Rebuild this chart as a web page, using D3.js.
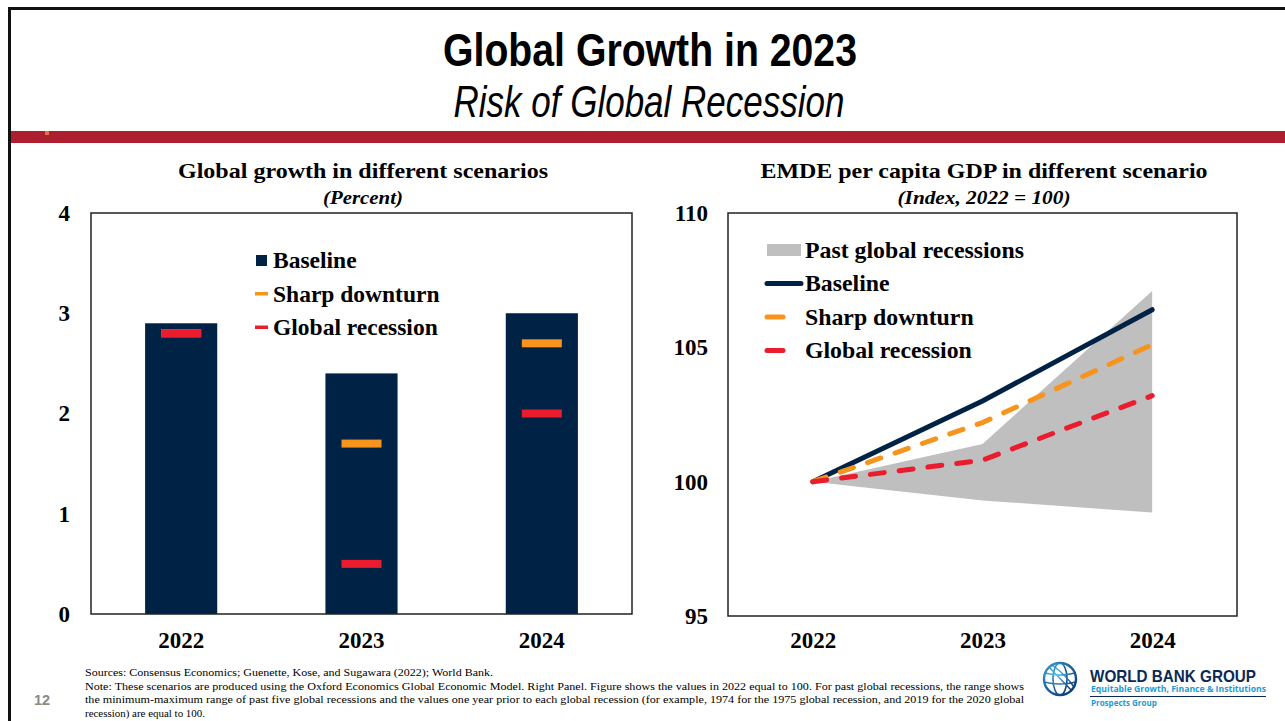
<!DOCTYPE html>
<html><head><meta charset="utf-8">
<script src="https://cdn.jsdelivr.net/npm/d3@7"></script>
<style>
html,body{margin:0;padding:0;background:#fff;}
svg{display:block;}
</style></head>
<body>
<svg id="c" width="1285" height="721"></svg>
<script>
// ---------- DATA ----------
const years = ["2022", "2023", "2024"];
// Left panel: global growth (percent)
const baselineGrowth = [2.9, 2.4, 3.0];
const sharpGrowth = [2.8, 1.7, 2.7];
const recessionGrowth = [2.8, 0.5, 2.0];
const leftTicks = [0, 1, 2, 3, 4];
// Right panel: EMDE per capita GDP index (2022 = 100)
const baselineIndex = [100, 103.0, 106.4];
const sharpIndex = [100, 102.2, 105.1];
const recessionIndex = [100, 100.8, 103.2];
const pastMax = [100, 101.4, 107.1];
const pastMin = [100, 99.3, 98.85];
const rightTicks = [95, 100, 105, 110];

const NAVY = "#002244", ORANGE = "#F7941D", RED = "#EB1C2D", GRAY = "#BFBFBF";
const SERIF = "'Liberation Serif','Times New Roman',serif";
const NARROW = "'Liberation Sans Narrow','Arial Narrow','Liberation Sans',Arial,sans-serif";

const svg = d3.select("#c");

// ---------- Slide frame ----------
svg.append("rect").attr("x", 0).attr("y", 0).attr("width", 1285).attr("height", 721).attr("fill", "#fff");
svg.append("line").attr("x1", 8).attr("x2", 1285).attr("y1", 8.5).attr("y2", 8.5).attr("stroke", "#111").attr("stroke-width", 3);
svg.append("line").attr("x1", 9.5).attr("x2", 9.5).attr("y1", 7).attr("y2", 721).attr("stroke", "#111").attr("stroke-width", 3);
svg.append("rect").attr("x", 11).attr("y", 131).attr("width", 1274).attr("height", 12).attr("fill", "#AD1F2F");
svg.append("rect").attr("x", 45).attr("y", 131).attr("width", 4).attr("height", 4).attr("fill", "#D9793B");

svg.append("text").attr("x", 650).attr("y", 66).attr("text-anchor", "middle")
  .attr("font-family", NARROW).attr("font-weight", "bold").attr("font-size", 47)
  .attr("textLength", 414).attr("lengthAdjust", "spacingAndGlyphs")
  .text("Global Growth in 2023");
svg.append("text").attr("x", 649).attr("y", 117).attr("text-anchor", "middle")
  .attr("font-family", NARROW).attr("font-style", "italic").attr("font-size", 45)
  .attr("textLength", 391).attr("lengthAdjust", "spacingAndGlyphs")
  .text("Risk of Global Recession");

function title(x, t1, w1, t2, w2) {
  svg.append("text").attr("x", x).attr("y", 178).attr("text-anchor", "middle")
    .attr("font-family", SERIF).attr("font-weight", "bold").attr("font-size", 22)
    .attr("textLength", w1).attr("lengthAdjust", "spacingAndGlyphs").text(t1);
  svg.append("text").attr("x", x).attr("y", 204).attr("text-anchor", "middle")
    .attr("font-family", SERIF).attr("font-weight", "bold").attr("font-style", "italic").attr("font-size", 19)
    .attr("textLength", w2).attr("lengthAdjust", "spacingAndGlyphs").text(t2);
}

// ---------- LEFT PANEL ----------
const L = {x0: 91, x1: 632, y0: 213, y1: 614};
const xL = d3.scaleBand().domain(years).range([L.x0, L.x1]).paddingInner(0.6).paddingOuter(0.3);
const yL = d3.scaleLinear().domain([0, 4]).range([L.y1, L.y0]);

title(363, "Global growth in different scenarios", 370, "(Percent)", 80);

const gL = svg.append("g");
gL.selectAll("rect.bar").data(years).join("rect").attr("class", "bar")
  .attr("x", d => xL(d)).attr("width", xL.bandwidth())
  .attr("y", (d, i) => yL(baselineGrowth[i]))
  .attr("height", (d, i) => yL(0) - yL(baselineGrowth[i]))
  .attr("fill", NAVY);
const mw = 40, mh = 8;
gL.selectAll("rect.sharp").data(years).join("rect").attr("class", "sharp")
  .attr("x", d => xL(d) + xL.bandwidth() / 2 - mw / 2).attr("width", mw)
  .attr("y", (d, i) => yL(sharpGrowth[i]) - mh / 2).attr("height", mh)
  .attr("fill", ORANGE);
gL.selectAll("rect.rec").data(years).join("rect").attr("class", "rec")
  .attr("x", d => xL(d) + xL.bandwidth() / 2 - mw / 2).attr("width", mw)
  .attr("y", (d, i) => yL(recessionGrowth[i]) - mh / 2).attr("height", mh)
  .attr("fill", RED);

gL.append("rect").attr("x", L.x0).attr("y", L.y0).attr("width", L.x1 - L.x0).attr("height", L.y1 - L.y0)
  .attr("fill", "none").attr("stroke", "#222").attr("stroke-width", 1.5);

const axL = gL.append("g").attr("transform", `translate(${L.x0},0)`)
  .call(d3.axisLeft(yL).tickValues(leftTicks).tickSize(0).tickPadding(21).tickFormat(d3.format("d")));
axL.select(".domain").remove();
axL.selectAll("text").attr("font-family", SERIF).attr("font-weight", "bold").attr("font-size", 23).attr("fill", "#000");

const axLb = gL.append("g").attr("transform", `translate(0,${L.y1})`)
  .call(d3.axisBottom(xL).tickSize(0).tickPadding(18));
axLb.select(".domain").remove();
axLb.selectAll("text").attr("font-family", SERIF).attr("font-weight", "bold").attr("font-size", 23).attr("fill", "#000");

// Left legend
const legL = [
  {t: "Baseline", type: "sq", c: NAVY},
  {t: "Sharp downturn", type: "ln", c: ORANGE},
  {t: "Global recession", type: "ln", c: RED}
];
legL.forEach((d, i) => {
  const cy = 260 + i * 33.5;
  if (d.type === "sq") svg.append("rect").attr("x", 256).attr("y", cy - 5).attr("width", 11).attr("height", 11).attr("fill", d.c);
  else svg.append("rect").attr("x", 255).attr("y", cy - 1.5).attr("width", 13).attr("height", 3.5).attr("fill", d.c);
  svg.append("text").attr("x", 273).attr("y", cy + 8).attr("font-family", SERIF).attr("font-weight", "bold")
    .attr("font-size", 23.5).text(d.t);
});

// ---------- RIGHT PANEL ----------
const R = {x0: 728, x1: 1237, y0: 213, y1: 616};
const xR = d3.scalePoint().domain(years).range([R.x0, R.x1]).padding(0.5);
const yR = d3.scaleLinear().domain([95, 110]).range([R.y1, R.y0]);

title(984, "EMDE per capita GDP in different scenario", 447, "(Index, 2022 = 100)", 173);

const gR = svg.append("g");
const area = d3.area().x((d, i) => xR(years[i])).y0((d, i) => yR(pastMin[i])).y1(d => yR(d));
gR.append("path").datum(pastMax).attr("d", area).attr("fill", GRAY);

const line = d3.line().x((d, i) => xR(years[i])).y(d => yR(d));
gR.append("path").datum(baselineIndex).attr("d", line).attr("fill", "none")
  .attr("stroke", NAVY).attr("stroke-width", 5).attr("stroke-linecap", "round");
gR.append("path").datum(sharpIndex).attr("d", line).attr("fill", "none")
  .attr("stroke", ORANGE).attr("stroke-width", 5).attr("stroke-linecap", "round").attr("stroke-dasharray", "14 15");
gR.append("path").datum(recessionIndex).attr("d", line).attr("fill", "none")
  .attr("stroke", RED).attr("stroke-width", 5).attr("stroke-linecap", "round").attr("stroke-dasharray", "14 15");

gR.append("rect").attr("x", R.x0).attr("y", R.y0).attr("width", R.x1 - R.x0).attr("height", R.y1 - R.y0)
  .attr("fill", "none").attr("stroke", "#222").attr("stroke-width", 1.5);

const axR = gR.append("g").attr("transform", `translate(${R.x0},0)`)
  .call(d3.axisLeft(yR).tickValues(rightTicks).tickSize(0).tickPadding(20).tickFormat(d3.format("d")));
axR.select(".domain").remove();
axR.selectAll("text").attr("font-family", SERIF).attr("font-weight", "bold").attr("font-size", 23).attr("fill", "#000");

const axRb = gR.append("g").attr("transform", `translate(0,${R.y1})`)
  .call(d3.axisBottom(xR).tickSize(0).tickPadding(16));
axRb.select(".domain").remove();
axRb.selectAll("text").attr("font-family", SERIF).attr("font-weight", "bold").attr("font-size", 23).attr("fill", "#000");

// Right legend
const legR = [
  {t: "Past global recessions", type: "area", c: GRAY},
  {t: "Baseline", type: "solid", c: NAVY},
  {t: "Sharp downturn", type: "dash", c: ORANGE},
  {t: "Global recession", type: "dash", c: RED}
];
legR.forEach((d, i) => {
  const cy = 250 + i * 33.5;
  if (d.type === "area") svg.append("rect").attr("x", 767).attr("y", cy - 6).attr("width", 34).attr("height", 12).attr("fill", d.c);
  else if (d.type === "solid") svg.append("line").attr("x1", 767).attr("x2", 801).attr("y1", cy).attr("y2", cy)
    .attr("stroke", d.c).attr("stroke-width", 5).attr("stroke-linecap", "round");
  else svg.append("line").attr("x1", 767).attr("x2", 783).attr("y1", cy).attr("y2", cy)
    .attr("stroke", d.c).attr("stroke-width", 5).attr("stroke-linecap", "round");
  svg.append("text").attr("x", 805).attr("y", cy + 7.5).attr("font-family", SERIF).attr("font-weight", "bold")
    .attr("font-size", 23.8).text(d.t);
});

// ---------- Footer ----------
svg.append("text").attr("x", 42).attr("y", 705).attr("text-anchor", "middle")
  .attr("font-family", "'Liberation Sans',Arial,sans-serif").attr("font-weight", "bold").attr("font-size", 14.5)
  .attr("fill", "#8a8a8a").text("12");
const notes = [
  {t: "Sources: Consensus Economics; Guenette, Kose, and Sugawara (2022); World Bank.", w: 408},
  {t: "Note: These scenarios are produced using the Oxford Economics Global Economic Model. Right Panel. Figure shows the values in 2022 equal to 100. For past global recessions, the range shows", w: 939},
  {t: "the minimum-maximum range of past five global recessions and the values one year prior to each global recession (for example, 1974 for the 1975 global recession, and 2019 for the 2020 global", w: 939},
  {t: "recession) are equal to 100.", w: 120}
];
notes.forEach((d, i) => {
  svg.append("text").attr("x", 85).attr("y", 676 + i * 13.6)
    .attr("font-family", SERIF).attr("font-size", 11.2).attr("fill", "#000")
    .attr("textLength", d.w).attr("lengthAdjust", "spacingAndGlyphs").text(d.t);
});

// Logo
const defs = svg.append("defs");
const grad = defs.append("radialGradient").attr("id", "gl").attr("cx", "35%").attr("cy", "35%").attr("r", "75%");
grad.append("stop").attr("offset", "0%").attr("stop-color", "#4FC3F0");
grad.append("stop").attr("offset", "100%").attr("stop-color", "#0B3C7A");
const lg = svg.append("g").attr("transform", "translate(1060,679)");
lg.append("circle").attr("r", 16).attr("fill", "none").attr("stroke", "url(#gl)").attr("stroke-width", 2.4);
lg.append("ellipse").attr("rx", 7).attr("ry", 16).attr("fill", "none").attr("stroke", "url(#gl)").attr("stroke-width", 1.6);
lg.append("path").attr("d", "M-15,-6 Q0,-2 15,-6 M-16,3 Q0,7 16,3 M-11,-12 L12,12 M-8,-14 Q6,-4 14,8").attr("fill", "none").attr("stroke", "url(#gl)").attr("stroke-width", 1.5);
svg.append("text").attr("x", 1090).attr("y", 682).attr("font-family", NARROW).attr("font-weight", "bold")
  .attr("font-size", 16.5).attr("fill", "#0A2A55").attr("textLength", 166).attr("lengthAdjust", "spacingAndGlyphs").text("WORLD BANK GROUP");
svg.append("text").attr("x", 1091).attr("y", 692).attr("font-family", "'Open Sans',sans-serif").attr("font-weight", "bold")
  .attr("font-size", 8.5).attr("fill", "#1A9BD7").attr("textLength", 175).attr("lengthAdjust", "spacingAndGlyphs").text("Equitable Growth, Finance & Institutions");
svg.append("line").attr("x1", 1090).attr("x2", 1266).attr("y1", 696.5).attr("y2", 696.5).attr("stroke", "#0A2A55").attr("stroke-width", 1);
svg.append("text").attr("x", 1091).attr("y", 706).attr("font-family", "'Open Sans',sans-serif").attr("font-weight", "bold")
  .attr("font-size", 8).attr("fill", "#1A9BD7").text("Prospects Group");
</script>
</body></html>
